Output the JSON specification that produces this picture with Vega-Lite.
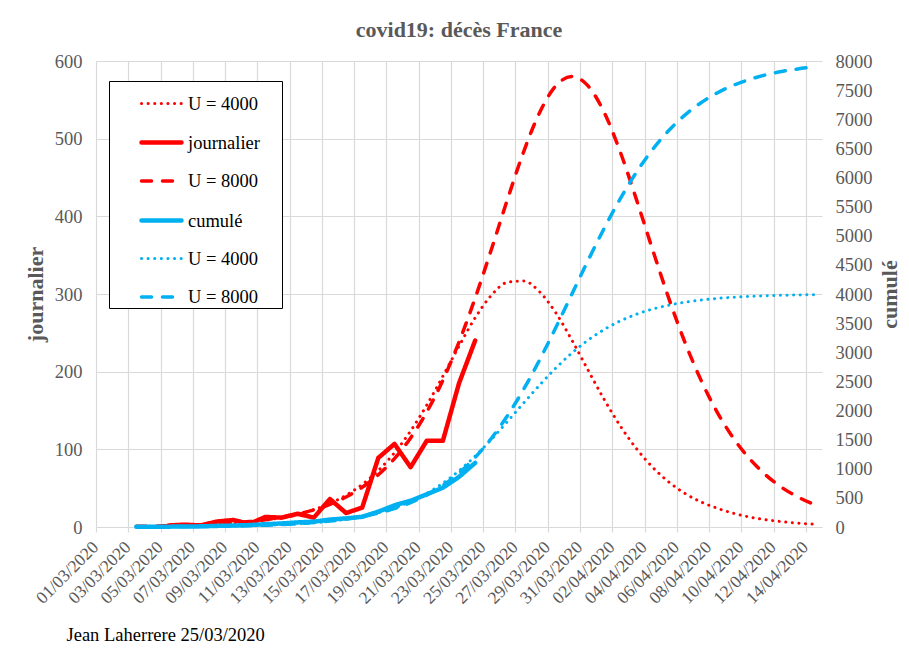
{
  "$schema": "https://vega.github.io/schema/vega-lite/v6.json",
  "width": 726,
  "height": 466,
  "autosize": {"type": "none"},
  "padding": {"left": 96, "top": 61, "right": 87, "bottom": 127},
  "background": "white",
  "config": {"view": {"stroke": null}},
  "title": {"text": "covid19: décès France", "font": "Liberation Serif", "fontSize": 22, "fontWeight": "bold", "color": "#595959", "anchor": "middle", "offset": 10},
  "datasets": {
    "j": [
      {"date":"2020-03-03","s":"journalier U = 4000","v":0.7},{"date":"2020-03-04","s":"journalier U = 4000","v":1.0},{"date":"2020-03-05","s":"journalier U = 4000","v":1.3},{"date":"2020-03-06","s":"journalier U = 4000","v":1.8},{"date":"2020-03-07","s":"journalier U = 4000","v":2.5},{"date":"2020-03-08","s":"journalier U = 4000","v":3.4},{"date":"2020-03-09","s":"journalier U = 4000","v":4.7},{"date":"2020-03-10","s":"journalier U = 4000","v":6.5},{"date":"2020-03-11","s":"journalier U = 4000","v":8.8},{"date":"2020-03-12","s":"journalier U = 4000","v":12.0},{"date":"2020-03-13","s":"journalier U = 4000","v":16.4},{"date":"2020-03-14","s":"journalier U = 4000","v":22.3},{"date":"2020-03-15","s":"journalier U = 4000","v":30.3},{"date":"2020-03-16","s":"journalier U = 4000","v":40.9},{"date":"2020-03-17","s":"journalier U = 4000","v":54.8},{"date":"2020-03-18","s":"journalier U = 4000","v":72.8},{"date":"2020-03-19","s":"journalier U = 4000","v":95.6},{"date":"2020-03-20","s":"journalier U = 4000","v":123.7},{"date":"2020-03-21","s":"journalier U = 4000","v":156.9},{"date":"2020-03-22","s":"journalier U = 4000","v":194.2},{"date":"2020-03-23","s":"journalier U = 4000","v":232.9},{"date":"2020-03-24","s":"journalier U = 4000","v":269.3},{"date":"2020-03-25","s":"journalier U = 4000","v":298.2},{"date":"2020-03-26","s":"journalier U = 4000","v":315.1},{"date":"2020-03-27","s":"journalier U = 4000","v":316.7},{"date":"2020-03-28","s":"journalier U = 4000","v":302.8},{"date":"2020-03-29","s":"journalier U = 4000","v":275.8},{"date":"2020-03-30","s":"journalier U = 4000","v":240.5},{"date":"2020-03-31","s":"journalier U = 4000","v":202.0},{"date":"2020-04-01","s":"journalier U = 4000","v":164.2},{"date":"2020-04-02","s":"journalier U = 4000","v":130.0},{"date":"2020-04-03","s":"journalier U = 4000","v":100.9},{"date":"2020-04-04","s":"journalier U = 4000","v":77.0},{"date":"2020-04-05","s":"journalier U = 4000","v":58.0},{"date":"2020-04-06","s":"journalier U = 4000","v":43.3},{"date":"2020-04-07","s":"journalier U = 4000","v":32.2},{"date":"2020-04-08","s":"journalier U = 4000","v":24.2},{"date":"2020-04-09","s":"journalier U = 4000","v":17.7},{"date":"2020-04-10","s":"journalier U = 4000","v":12.9},{"date":"2020-04-11","s":"journalier U = 4000","v":9.4},{"date":"2020-04-12","s":"journalier U = 4000","v":6.9},{"date":"2020-04-13","s":"journalier U = 4000","v":5.0},{"date":"2020-04-14","s":"journalier U = 4000","v":3.6},
      {"date":"2020-03-03","s":"journalier U = 8000","v":0.9},{"date":"2020-03-04","s":"journalier U = 8000","v":1.2},{"date":"2020-03-05","s":"journalier U = 8000","v":1.7},{"date":"2020-03-06","s":"journalier U = 8000","v":2.2},{"date":"2020-03-07","s":"journalier U = 8000","v":2.9},{"date":"2020-03-08","s":"journalier U = 8000","v":3.9},{"date":"2020-03-09","s":"journalier U = 8000","v":5.3},{"date":"2020-03-10","s":"journalier U = 8000","v":7.0},{"date":"2020-03-11","s":"journalier U = 8000","v":9.3},{"date":"2020-03-12","s":"journalier U = 8000","v":12.4},{"date":"2020-03-13","s":"journalier U = 8000","v":16.6},{"date":"2020-03-14","s":"journalier U = 8000","v":22.0},{"date":"2020-03-15","s":"journalier U = 8000","v":29.2},{"date":"2020-03-16","s":"journalier U = 8000","v":38.7},{"date":"2020-03-17","s":"journalier U = 8000","v":51.1},{"date":"2020-03-18","s":"journalier U = 8000","v":67.3},{"date":"2020-03-19","s":"journalier U = 8000","v":88.1},{"date":"2020-03-20","s":"journalier U = 8000","v":114.7},{"date":"2020-03-21","s":"journalier U = 8000","v":148.0},{"date":"2020-03-22","s":"journalier U = 8000","v":188.9},{"date":"2020-03-23","s":"journalier U = 8000","v":238.1},{"date":"2020-03-24","s":"journalier U = 8000","v":294.7},{"date":"2020-03-25","s":"journalier U = 8000","v":357.0},{"date":"2020-03-26","s":"journalier U = 8000","v":421.5},{"date":"2020-03-27","s":"journalier U = 8000","v":482.8},{"date":"2020-03-28","s":"journalier U = 8000","v":533.8},{"date":"2020-03-29","s":"journalier U = 8000","v":568.0},{"date":"2020-03-30","s":"journalier U = 8000","v":580.0},{"date":"2020-03-31","s":"journalier U = 8000","v":567.9},{"date":"2020-04-01","s":"journalier U = 8000","v":533.8},{"date":"2020-04-02","s":"journalier U = 8000","v":482.8},{"date":"2020-04-03","s":"journalier U = 8000","v":421.5},{"date":"2020-04-04","s":"journalier U = 8000","v":357.1},{"date":"2020-04-05","s":"journalier U = 8000","v":294.7},{"date":"2020-04-06","s":"journalier U = 8000","v":238.0},{"date":"2020-04-07","s":"journalier U = 8000","v":189.1},{"date":"2020-04-08","s":"journalier U = 8000","v":148.0},{"date":"2020-04-09","s":"journalier U = 8000","v":114.6},{"date":"2020-04-10","s":"journalier U = 8000","v":88.2},{"date":"2020-04-11","s":"journalier U = 8000","v":67.3},{"date":"2020-04-12","s":"journalier U = 8000","v":51.0},{"date":"2020-04-13","s":"journalier U = 8000","v":38.7},{"date":"2020-04-14","s":"journalier U = 8000","v":29.2},
      {"date":"2020-03-05","s":"journalier","v":2},{"date":"2020-03-06","s":"journalier","v":3},{"date":"2020-03-07","s":"journalier","v":2},{"date":"2020-03-08","s":"journalier","v":7},{"date":"2020-03-09","s":"journalier","v":9},{"date":"2020-03-10","s":"journalier","v":4},{"date":"2020-03-11","s":"journalier","v":13},{"date":"2020-03-12","s":"journalier","v":12},{"date":"2020-03-13","s":"journalier","v":17},{"date":"2020-03-14","s":"journalier","v":12},{"date":"2020-03-15","s":"journalier","v":36},{"date":"2020-03-16","s":"journalier","v":18},{"date":"2020-03-17","s":"journalier","v":25},{"date":"2020-03-18","s":"journalier","v":89},{"date":"2020-03-19","s":"journalier","v":107},{"date":"2020-03-20","s":"journalier","v":77},{"date":"2020-03-21","s":"journalier","v":111},{"date":"2020-03-22","s":"journalier","v":111},{"date":"2020-03-23","s":"journalier","v":185},{"date":"2020-03-24","s":"journalier","v":240}
    ],
    "c": [
      {"date":"2020-03-03","s":"cumulé U = 4000","v":2},{"date":"2020-03-04","s":"cumulé U = 4000","v":3},{"date":"2020-03-05","s":"cumulé U = 4000","v":4},{"date":"2020-03-06","s":"cumulé U = 4000","v":6},{"date":"2020-03-07","s":"cumulé U = 4000","v":8},{"date":"2020-03-08","s":"cumulé U = 4000","v":11},{"date":"2020-03-09","s":"cumulé U = 4000","v":15},{"date":"2020-03-10","s":"cumulé U = 4000","v":20},{"date":"2020-03-11","s":"cumulé U = 4000","v":28},{"date":"2020-03-12","s":"cumulé U = 4000","v":38},{"date":"2020-03-13","s":"cumulé U = 4000","v":52},{"date":"2020-03-14","s":"cumulé U = 4000","v":71},{"date":"2020-03-15","s":"cumulé U = 4000","v":98},{"date":"2020-03-16","s":"cumulé U = 4000","v":133},{"date":"2020-03-17","s":"cumulé U = 4000","v":180},{"date":"2020-03-18","s":"cumulé U = 4000","v":244},{"date":"2020-03-19","s":"cumulé U = 4000","v":328},{"date":"2020-03-20","s":"cumulé U = 4000","v":437},{"date":"2020-03-21","s":"cumulé U = 4000","v":577},{"date":"2020-03-22","s":"cumulé U = 4000","v":752},{"date":"2020-03-23","s":"cumulé U = 4000","v":966},{"date":"2020-03-24","s":"cumulé U = 4000","v":1217},{"date":"2020-03-25","s":"cumulé U = 4000","v":1502},{"date":"2020-03-26","s":"cumulé U = 4000","v":1810},{"date":"2020-03-27","s":"cumulé U = 4000","v":2127},{"date":"2020-03-28","s":"cumulé U = 4000","v":2437},{"date":"2020-03-29","s":"cumulé U = 4000","v":2729},{"date":"2020-03-30","s":"cumulé U = 4000","v":2987},{"date":"2020-03-31","s":"cumulé U = 4000","v":3208},{"date":"2020-04-01","s":"cumulé U = 4000","v":3391},{"date":"2020-04-02","s":"cumulé U = 4000","v":3538},{"date":"2020-04-03","s":"cumulé U = 4000","v":3653},{"date":"2020-04-04","s":"cumulé U = 4000","v":3741},{"date":"2020-04-05","s":"cumulé U = 4000","v":3808},{"date":"2020-04-06","s":"cumulé U = 4000","v":3859},{"date":"2020-04-07","s":"cumulé U = 4000","v":3896},{"date":"2020-04-08","s":"cumulé U = 4000","v":3924},{"date":"2020-04-09","s":"cumulé U = 4000","v":3944},{"date":"2020-04-10","s":"cumulé U = 4000","v":3959},{"date":"2020-04-11","s":"cumulé U = 4000","v":3970},{"date":"2020-04-12","s":"cumulé U = 4000","v":3978},{"date":"2020-04-13","s":"cumulé U = 4000","v":3984},{"date":"2020-04-14","s":"cumulé U = 4000","v":3989},
      {"date":"2020-03-03","s":"cumulé U = 8000","v":3},{"date":"2020-03-04","s":"cumulé U = 8000","v":4},{"date":"2020-03-05","s":"cumulé U = 8000","v":6},{"date":"2020-03-06","s":"cumulé U = 8000","v":8},{"date":"2020-03-07","s":"cumulé U = 8000","v":10},{"date":"2020-03-08","s":"cumulé U = 8000","v":14},{"date":"2020-03-09","s":"cumulé U = 8000","v":18},{"date":"2020-03-10","s":"cumulé U = 8000","v":24},{"date":"2020-03-11","s":"cumulé U = 8000","v":32},{"date":"2020-03-12","s":"cumulé U = 8000","v":43},{"date":"2020-03-13","s":"cumulé U = 8000","v":57},{"date":"2020-03-14","s":"cumulé U = 8000","v":77},{"date":"2020-03-15","s":"cumulé U = 8000","v":102},{"date":"2020-03-16","s":"cumulé U = 8000","v":136},{"date":"2020-03-17","s":"cumulé U = 8000","v":180},{"date":"2020-03-18","s":"cumulé U = 8000","v":239},{"date":"2020-03-19","s":"cumulé U = 8000","v":316},{"date":"2020-03-20","s":"cumulé U = 8000","v":417},{"date":"2020-03-21","s":"cumulé U = 8000","v":548},{"date":"2020-03-22","s":"cumulé U = 8000","v":716},{"date":"2020-03-23","s":"cumulé U = 8000","v":929},{"date":"2020-03-24","s":"cumulé U = 8000","v":1194},{"date":"2020-03-25","s":"cumulé U = 8000","v":1520},{"date":"2020-03-26","s":"cumulé U = 8000","v":1909},{"date":"2020-03-27","s":"cumulé U = 8000","v":2362},{"date":"2020-03-28","s":"cumulé U = 8000","v":2871},{"date":"2020-03-29","s":"cumulé U = 8000","v":3424},{"date":"2020-03-30","s":"cumulé U = 8000","v":4000},{"date":"2020-03-31","s":"cumulé U = 8000","v":4577},{"date":"2020-04-01","s":"cumulé U = 8000","v":5128},{"date":"2020-04-02","s":"cumulé U = 8000","v":5638},{"date":"2020-04-03","s":"cumulé U = 8000","v":6091},{"date":"2020-04-04","s":"cumulé U = 8000","v":6480},{"date":"2020-04-05","s":"cumulé U = 8000","v":6806},{"date":"2020-04-06","s":"cumulé U = 8000","v":7071},{"date":"2020-04-07","s":"cumulé U = 8000","v":7284},{"date":"2020-04-08","s":"cumulé U = 8000","v":7452},{"date":"2020-04-09","s":"cumulé U = 8000","v":7583},{"date":"2020-04-10","s":"cumulé U = 8000","v":7683},{"date":"2020-04-11","s":"cumulé U = 8000","v":7761},{"date":"2020-04-12","s":"cumulé U = 8000","v":7820},{"date":"2020-04-13","s":"cumulé U = 8000","v":7864},{"date":"2020-04-14","s":"cumulé U = 8000","v":7898},
      {"date":"2020-03-03","s":"cumulé","v":4},{"date":"2020-03-04","s":"cumulé","v":4},{"date":"2020-03-05","s":"cumulé","v":6},{"date":"2020-03-06","s":"cumulé","v":9},{"date":"2020-03-07","s":"cumulé","v":11},{"date":"2020-03-08","s":"cumulé","v":19},{"date":"2020-03-09","s":"cumulé","v":25},{"date":"2020-03-10","s":"cumulé","v":33},{"date":"2020-03-11","s":"cumulé","v":48},{"date":"2020-03-12","s":"cumulé","v":61},{"date":"2020-03-13","s":"cumulé","v":79},{"date":"2020-03-14","s":"cumulé","v":91},{"date":"2020-03-15","s":"cumulé","v":127},{"date":"2020-03-16","s":"cumulé","v":148},{"date":"2020-03-17","s":"cumulé","v":175},{"date":"2020-03-18","s":"cumulé","v":264},{"date":"2020-03-19","s":"cumulé","v":372},{"date":"2020-03-20","s":"cumulé","v":450},{"date":"2020-03-21","s":"cumulé","v":562},{"date":"2020-03-22","s":"cumulé","v":674},{"date":"2020-03-23","s":"cumulé","v":860},{"date":"2020-03-24","s":"cumulé","v":1100}
    ]
  },
  "encoding": {
    "x": {
      "field": "date", "type": "temporal",
      "scale": {"type": "utc", "domain": [{"year": 2020, "month": 2, "date": 29, "hours": 12, "utc": true}, {"year": 2020, "month": 4, "date": 14, "hours": 12, "utc": true}]},
      "axis": {
        "values": [
          {"year":2020,"month":3,"date":1,"utc":true},{"year":2020,"month":3,"date":3,"utc":true},{"year":2020,"month":3,"date":5,"utc":true},{"year":2020,"month":3,"date":7,"utc":true},{"year":2020,"month":3,"date":9,"utc":true},{"year":2020,"month":3,"date":11,"utc":true},{"year":2020,"month":3,"date":13,"utc":true},{"year":2020,"month":3,"date":15,"utc":true},{"year":2020,"month":3,"date":17,"utc":true},{"year":2020,"month":3,"date":19,"utc":true},{"year":2020,"month":3,"date":21,"utc":true},{"year":2020,"month":3,"date":23,"utc":true},{"year":2020,"month":3,"date":25,"utc":true},{"year":2020,"month":3,"date":27,"utc":true},{"year":2020,"month":3,"date":29,"utc":true},{"year":2020,"month":3,"date":31,"utc":true},{"year":2020,"month":4,"date":2,"utc":true},{"year":2020,"month":4,"date":4,"utc":true},{"year":2020,"month":4,"date":6,"utc":true},{"year":2020,"month":4,"date":8,"utc":true},{"year":2020,"month":4,"date":10,"utc":true},{"year":2020,"month":4,"date":12,"utc":true},{"year":2020,"month":4,"date":14,"utc":true}
        ],
        "labelExpr": "utcFormat(datum.value, '%d/%m/%Y')",
        "labelAngle": -45, "labelOverlap": false, "labelFlush": false,
        "labelFont": "Liberation Serif", "labelFontSize": 17.5, "labelColor": "#595959", "labelPadding": 6,
        "tickOffset": -8.07, "labelOffset": -7,
        "grid": true, "gridColor": "#d9d9d9", "gridWidth": 1.2,
        "domainColor": "#d9d9d9", "domainWidth": 1.2, "tickColor": "#d9d9d9", "tickSize": 5, "tickWidth": 1.2,
        "title": "Jean Laherrere 25/03/2020", "titleFont": "Liberation Serif", "titleFontSize": 18.5, "titleFontWeight": "normal", "titleColor": "black",
        "titleX": -30, "titleY": 113, "titleAnchor": "start", "titleAlign": "left", "titleBaseline": "alphabetic"
      }
    },
    "color": {
      "field": "s", "type": "nominal",
      "scale": {"domain": ["journalier U = 4000", "journalier", "journalier U = 8000", "cumulé", "cumulé U = 4000", "cumulé U = 8000"], "range": ["#FF0000", "#FF0000", "#FF0000", "#00B0F0", "#00B0F0", "#00B0F0"]},
      "legend": {
        "orient": "none", "legendX": 13, "legendY": 20, "title": " ", "titleOrient": "right", "titlePadding": 21, "titleFontSize": 10,
        "symbolType": "stroke", "symbolSize": 1600,
        "labelFont": "Liberation Serif", "labelFontSize": 18.5, "labelColor": "black",
        "labelExpr": "indexof(datum.label, 'U =') >= 0 ? substring(datum.label, indexof(datum.label, 'U =')) : datum.label",
        "fillColor": "white", "strokeColor": "black",
        "padding": 1, "rowPadding": 7, "symbolOffset": 29, "labelOffset": 4,
        "encode": {"symbols": {"update": {"strokeCap": {"value": "round"}}}}
      }
    },
    "strokeDash": {
      "field": "s", "type": "nominal",
      "scale": {"domain": ["journalier U = 4000", "journalier", "journalier U = 8000", "cumulé", "cumulé U = 4000", "cumulé U = 8000"], "range": [[0.1, 6.5], [1, 0], [10, 11], [1, 0], [0.1, 6.5], [10, 11]]}
    },
    "strokeWidth": {
      "field": "s", "type": "nominal",
      "scale": {"type": "ordinal", "domain": ["journalier U = 4000", "journalier", "journalier U = 8000", "cumulé", "cumulé U = 4000", "cumulé U = 8000"], "range": [3, 4.5, 3.5, 4.5, 3, 3.5]}
    }
  },
  "layer": [
    {
      "data": {"name": "j"},
      "encoding": {
        "y": {"field": "v", "type": "quantitative", "scale": {"domain": [0, 600], "nice": false},
          "axis": {"orient": "left", "values": [0, 100, 200, 300, 400, 500, 600], "ticks": false, "domain": false, "grid": true, "gridColor": "#d9d9d9", "gridWidth": 1.2,
            "labelFont": "Liberation Serif", "labelFontSize": 18.5, "labelColor": "#595959", "labelPadding": 14,
            "title": "journalier", "titleFont": "Liberation Serif", "titleFontSize": 22, "titleFontWeight": "bold", "titleColor": "#595959",
            "titleAngle": -90, "titleX": -61, "titleY": 233, "titleAlign": "center", "titleBaseline": "middle"}}
      },
      "layer": [
        {"transform": [{"filter": "datum.s !== 'journalier'"}], "mark": {"type": "line", "strokeCap": "round", "strokeJoin": "round", "interpolate": "monotone"}},
        {"transform": [{"filter": "datum.s === 'journalier'"}], "mark": {"type": "line", "strokeCap": "round", "strokeJoin": "round"}}
      ]
    },
    {
      "data": {"name": "c"},
      "encoding": {
        "y": {"field": "v", "type": "quantitative", "scale": {"domain": [0, 8000], "nice": false},
          "axis": {"orient": "right", "values": [0, 500, 1000, 1500, 2000, 2500, 3000, 3500, 4000, 4500, 5000, 5500, 6000, 6500, 7000, 7500, 8000], "format": "d", "ticks": false, "domain": false, "grid": false,
            "labelFont": "Liberation Serif", "labelFontSize": 18.5, "labelColor": "#595959", "labelPadding": 13,
            "title": "cumulé", "titleFont": "Liberation Serif", "titleFontSize": 22, "titleFontWeight": "bold", "titleColor": "#595959",
            "titleAngle": -90, "titleX": 67, "titleY": 233, "titleAlign": "center", "titleBaseline": "middle"}}
      },
      "layer": [
        {"transform": [{"filter": "datum.s !== 'cumulé'"}], "mark": {"type": "line", "strokeCap": "round", "strokeJoin": "round", "interpolate": "monotone"}},
        {"transform": [{"filter": "datum.s === 'cumulé'"}], "mark": {"type": "line", "strokeCap": "round", "strokeJoin": "round"}}
      ]
    }
  ],
  "resolve": {"scale": {"y": "independent"}}
}
